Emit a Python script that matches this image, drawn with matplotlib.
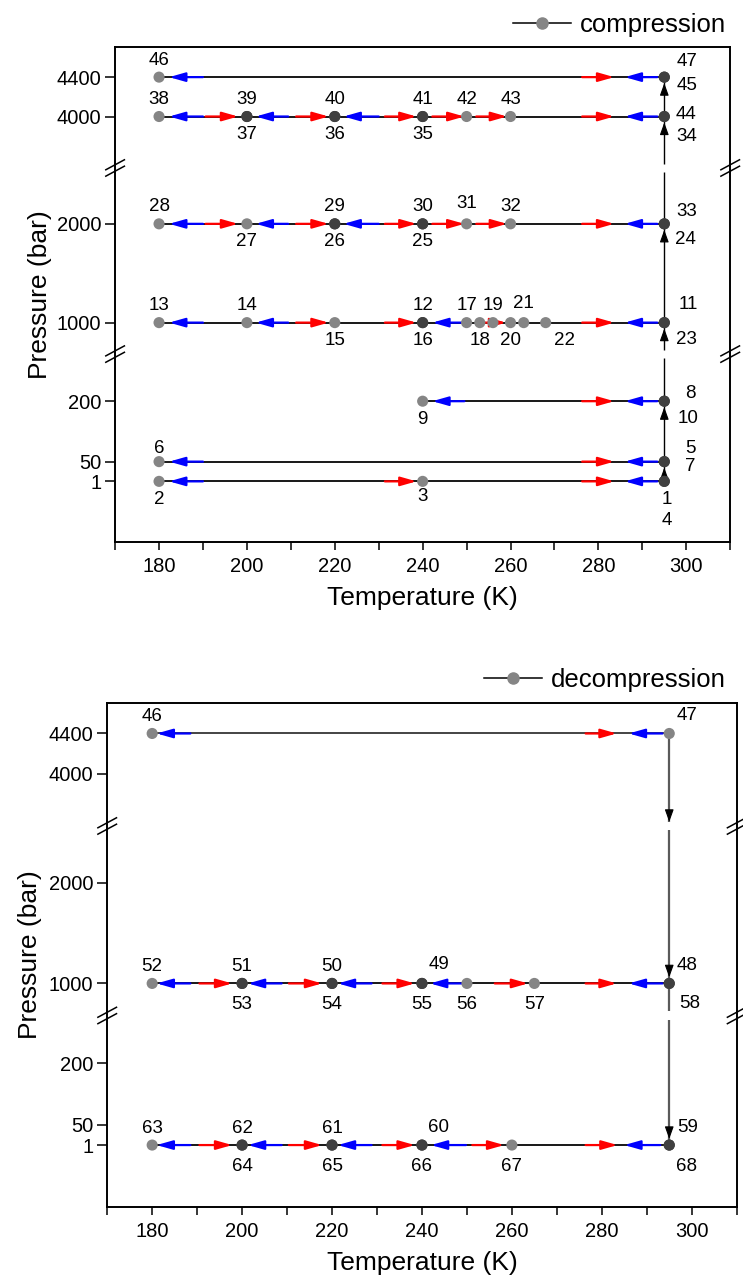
import numpy as np
import matplotlib
matplotlib.use('Agg')
import matplotlib.pyplot as plt
from matplotlib.lines import Line2D
from matplotlib.ticker import MultipleLocator, NullLocator
from collections import Counter

plt.rcParams['font.family'] = ['Liberation Sans', 'DejaVu Sans']

# ---------------- data: compression path (point number, T in K, P in bar) ----------------
comp_ids = list(range(1, 48))
comp_T = [295, 180, 240, 295,
          295, 180, 295,
          295, 240, 295,
          295, 240, 180, 200, 220, 240, 250, 253, 256, 260, 263, 268, 295,
          295, 240, 220, 200, 180, 220, 240, 250, 260, 295,
          295, 240, 220, 200, 180, 200, 220, 240, 250, 260, 295,
          295, 180, 295]
comp_P = [1] * 4 + [50] * 3 + [200] * 3 + [1000] * 13 + [2000] * 10 + [4000] * 11 + [4400] * 3

# horizontal temperature arrows: pressure, tail T, head T (head>tail: heating/red, else cooling/blue)
comp_arrow_P = [4400] * 3 + [4000] * 10 + [2000] * 10 + [1000] * 8 + [200] * 3 + [50] * 3 + [1] * 4
comp_arrow_from = [190, 276.3, 293.4,
                   190, 190.6, 209.4, 211.2, 230, 231.4, 242.2, 252.2, 276.3, 293.4,
                   190, 190.6, 209.4, 211.2, 230, 231.4, 242.2, 252.2, 276.3, 293.4,
                   190, 209.4, 211.2, 231.4, 249.5, 252.5, 276.3, 293.4,
                   249.5, 276.3, 293.4,
                   190, 276.3, 293.4,
                   190, 231.4, 276.3, 293.4]
comp_arrow_to = [182.3, 283.6, 286,
                 182.3, 198, 202, 218.6, 222, 238.6, 249.5, 259.2, 283.6, 286,
                 182.3, 198, 202, 218.6, 222, 238.6, 249.5, 259.2, 283.6, 286,
                 182.3, 202, 218.6, 238.6, 242.2, 259, 283.6, 286,
                 242.2, 283.6, 286,
                 182.3, 283.6, 286,
                 182.3, 238.6, 283.6, 286]

# ---------------- data: decompression path ----------------
decomp_ids = list(range(46, 69))
decomp_T = [180, 295,
            295, 240, 220, 200, 180, 200, 220, 240, 250, 265, 295,
            295, 240, 220, 200, 180, 200, 220, 240, 260, 295]
decomp_P = [4400] * 2 + [1000] * 11 + [1] * 10

decomp_arrow_P = [4400] * 3 + [1000] * 10 + [1] * 10
decomp_arrow_from = [188.5, 276.4, 293.5,
                     188.5, 190.5, 208.8, 210.4, 228.8, 231.2, 249.8, 256.2, 276.4, 293.5,
                     188.5, 190.5, 208.8, 210.4, 228.8, 231.2, 249.8, 251.2, 276.4, 293]
decomp_arrow_to = [181, 283.3, 286,
                   181, 197.8, 201.3, 217.8, 221.3, 238.4, 241.8, 263.6, 283.3, 286,
                   181, 197.8, 201.3, 217.8, 221.3, 238.4, 242, 258.3, 283.5, 285]

y_ticks = [1, 50, 200, 1000, 2000, 4000, 4400]
x_major = list(range(180, 301, 20))

# ---------------- label placement (pixels) ----------------
comp_above = {6, 12, 13, 14, 17, 19, 28, 29, 30, 31, 32, 38, 39, 40, 41, 42, 43, 46}
comp_special = {1: (3, -18), 4: (3, -39), 5: (26, 13), 6: (0, 13), 7: (26, -5), 8: (26, 8),
                10: (24, -17), 11: (24, 18), 21: (0, 19), 22: (19, -18), 23: (22, -17),
                24: (21, -16), 31: (0, 20), 33: (22, 12), 34: (22, -20), 44: (22, 2),
                45: (23, -8), 47: (23, 16), 3: (0, -15)}
decomp_above = {46, 50, 51, 52, 61, 62, 63}
decomp_special = {47: (18, 18), 48: (18, 18), 49: (17, 19), 58: (20, -20),
                  59: (18, 18), 60: (17, 18), 68: (17, -21)}

# ---------------- broken y scale ----------------
P_KNOTS = [-150, 307, 722, 2525, 3518, 4707]
V_KNOTS = [0, 184, 192, 370, 378, 495]
SEGS = [(-150, 307), (722, 2525), (3518, 4707)]


def fwd(p):
    return np.interp(p, P_KNOTS, V_KNOTS)


def inv(v):
    return np.interp(v, V_KNOTS, P_KNOTS)


def vertical_parts(pa, pb):
    lo, hi = min(pa, pb), max(pa, pb)
    parts = []
    for s0, s1 in SEGS:
        a, b = max(lo, s0), min(hi, s1)
        if a < b:
            parts.append((a, b))
    if pb < pa:
        parts = [(b, a) for a, b in parts][::-1]
    return parts


LIGHT = '#858585'
DARK = '#404040'
MS_PT = 8.0
HEAD = '-|>,head_length=0.75,head_width=0.27'


def head_only(ax, t, q0, q1, shrink_v):
    """Black arrowhead at the end of a vertical part ending at q1."""
    sgn = 1 if q1 > q0 else -1
    v_end = fwd(q1) - sgn * shrink_v
    v_tail = v_end - sgn * 11
    ax.annotate('', xy=(t, inv(v_end)), xytext=(t, inv(v_tail)),
                arrowprops=dict(arrowstyle=HEAD, color='black', lw=0.8,
                                shrinkA=0, shrinkB=0, mutation_scale=10),
                zorder=1.6)


def draw_panel(ax, ids, T, P, a_P, a_from, a_to, above, special, below_dy,
               vcolor, vlw, break_heads, legend_text, leg_pos, fig, ylabelpad):
    ax.set_yscale('function', functions=(fwd, inv))
    ax.set_xlim(170, 310)
    ax.set_ylim(-150, 4707)

    # path segments
    for i in range(len(ids) - 1):
        t0, p0, t1, p1 = T[i], P[i], T[i + 1], P[i + 1]
        if p0 == p1:
            ax.plot([t0, t1], [p0, p1], color='#111111', lw=1.1, zorder=1,
                    solid_capstyle='butt')
        else:
            parts = vertical_parts(p0, p1)
            for k, (q0, q1) in enumerate(parts):
                last = (k == len(parts) - 1)
                ax.plot([t0, t1], [q0, q1], color=vcolor, lw=vlw, zorder=1,
                        solid_capstyle='butt')
                if last:
                    head_only(ax, t1, q0, q1, 6.0)
                elif (ids[i], ids[i + 1]) in break_heads:
                    head_only(ax, t1, q0, q1, 0.0)

    # temperature arrows
    for p, t0, t1 in zip(a_P, a_from, a_to):
        c = '#ff0000' if t1 > t0 else '#0000ff'
        ax.annotate('', xy=(t1, p), xytext=(t0, p),
                    arrowprops=dict(arrowstyle='-|>,head_length=0.95,head_width=0.27',
                                    color=c, lw=1.6, shrinkA=0, shrinkB=0,
                                    mutation_scale=10),
                    zorder=2)

    # markers
    cnt = Counter(zip(T, P))
    cols = [DARK if cnt[(t, p)] > 1 else LIGHT for t, p in zip(T, P)]
    ax.scatter(T, P, s=MS_PT ** 2, c=cols, linewidths=0, zorder=3)

    # labels
    for n, t, p in zip(ids, T, P):
        if n in special:
            off = special[n]
        elif n in above:
            off = (0, 17)
        else:
            off = (0, below_dy)
        ax.annotate(str(n), xy=(t, p), xytext=off, textcoords='offset pixels',
                    ha='center', va='center', fontsize=13.5, zorder=4)

    # axes styling
    ax.set_xticks(x_major)
    ax.xaxis.set_minor_locator(MultipleLocator(10))
    ax.set_yticks(y_ticks)
    ax.set_yticklabels([str(v) for v in y_ticks])
    ax.yaxis.set_minor_locator(NullLocator())
    ax.tick_params(axis='x', which='both', direction='out', length=6, width=1.1,
                   labelsize=14.5, pad=5, top=False)
    ax.tick_params(axis='y', which='both', direction='out', length=7, width=1.1,
                   labelsize=14.5, pad=3, right=False)
    for s in ax.spines.values():
        s.set_linewidth(1.4)
    ax.set_xlabel('Temperature (K)', fontsize=19, labelpad=7)
    ax.set_ylabel('Pressure (bar)', fontsize=19, labelpad=ylabelpad)

    # break marks on left and right spines
    bb = ax.get_position()
    wpx = bb.width * fig.get_figwidth() * fig.dpi
    hpx = bb.height * fig.get_figheight() * fig.dpi
    dx, dy, sep = 9.3 / wpx, 5.0 / hpx, 3.2 / hpx
    vmax = V_KNOTS[-1]
    for yb in [(V_KNOTS[1] + V_KNOTS[2]) / 2 / vmax, (V_KNOTS[3] + V_KNOTS[4]) / 2 / vmax]:
        for xb in (0, 1):
            for s in (-sep, sep):
                ax.plot([xb - dx, xb + dx], [yb + s - dy, yb + s + dy], color='black',
                        lw=1.1, transform=ax.transAxes, clip_on=False, zorder=5)

    h = Line2D([], [], color='black', lw=1.1, marker='o', markersize=MS_PT,
               markerfacecolor=LIGHT, markeredgecolor=LIGHT)
    fig.legend(handles=[h], labels=[legend_text], loc='center right',
               bbox_to_anchor=leg_pos, frameon=False, fontsize=18.5,
               handlelength=2.27, handletextpad=0.35, borderpad=0, borderaxespad=0)


W, H = 743, 1285
fig = plt.figure(figsize=(W / 100, H / 100), dpi=100)
ax1 = fig.add_axes([115.1 / W, 1 - 542.2 / H, (730.2 - 115.1) / W, (542.2 - 46.9) / H])
ax2 = fig.add_axes([107.2 / W, 1 - 1207 / H, (736.7 - 107.2) / W, (1207 - 702.7) / H])

draw_panel(ax1, comp_ids, comp_T, comp_P, comp_arrow_P, comp_arrow_from, comp_arrow_to,
           comp_above, comp_special, -18, 'black', 1.0, set(), 'compression',
           (726 / W, 1 - 25 / H), fig, 3)
draw_panel(ax2, decomp_ids, decomp_T, decomp_P, decomp_arrow_P, decomp_arrow_from,
           decomp_arrow_to, decomp_above, decomp_special, -21, '#5a5a5a', 1.6,
           {(47, 48)}, 'decompression', (726 / W, 1 - 680 / H), fig, 5)

fig.savefig('out.png', dpi=100)
